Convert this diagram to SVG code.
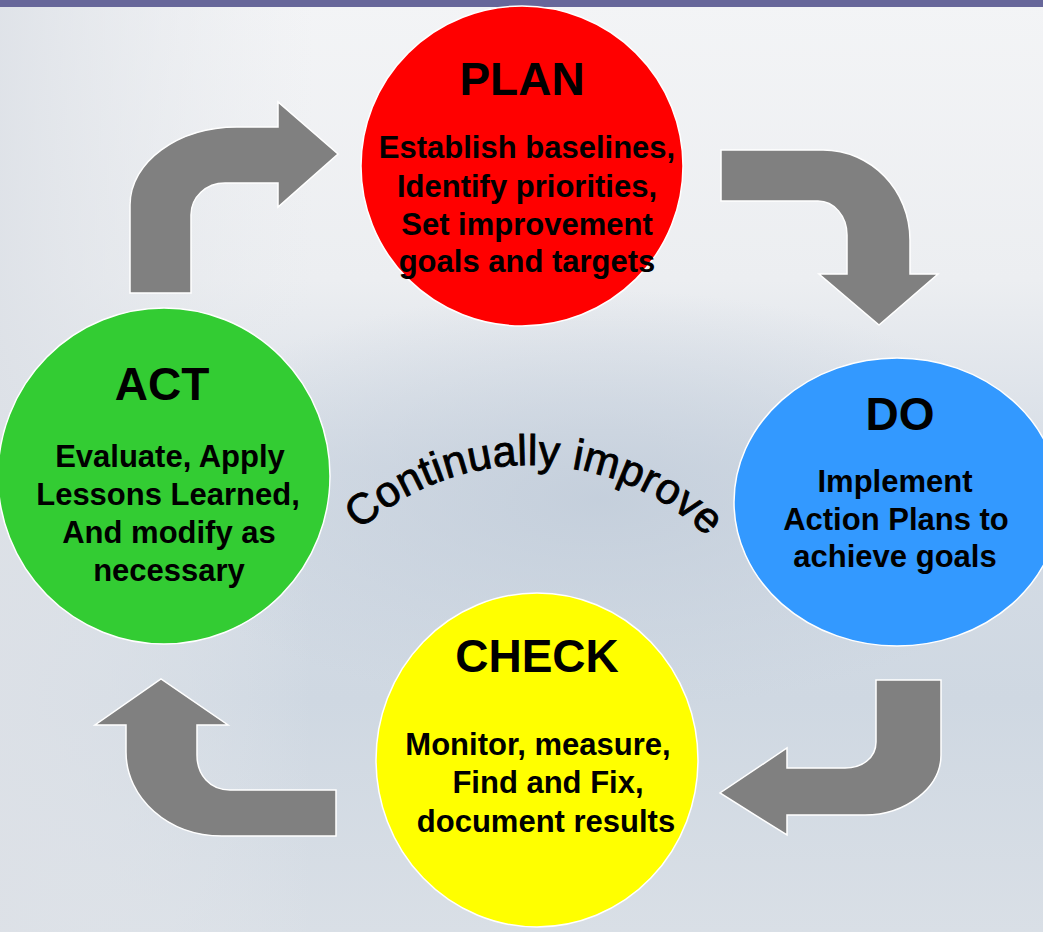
<svg xmlns="http://www.w3.org/2000/svg" width="1043" height="932" viewBox="0 0 1043 932">
  <defs>
    <linearGradient id="bg" x1="0" y1="0" x2="0" y2="1">
      <stop offset="0" stop-color="#f3f4f6"/>
      <stop offset="0.3" stop-color="#eceef1"/>
      <stop offset="0.5" stop-color="#d6dde6"/>
      <stop offset="0.75" stop-color="#cfd8e2"/>
      <stop offset="1" stop-color="#d9dfe6"/>
    </linearGradient>
    <linearGradient id="bgl" x1="0" y1="0" x2="1" y2="0">
      <stop offset="0" stop-color="#dde1e7" stop-opacity="0.9"/>
      <stop offset="0.3" stop-color="#e6e9ed" stop-opacity="0"/>
    </linearGradient>
    <radialGradient id="splash" cx="0.5" cy="0.5" r="0.5">
      <stop offset="0" stop-color="#c3cedb" stop-opacity="0.9"/>
      <stop offset="1" stop-color="#c3cedb" stop-opacity="0"/>
    </radialGradient>
    <path id="arc" d="M 290.4,632.8 A 255 255 0 0 1 769.6,632.8"/>
  </defs>
  <style>
    .arrow { fill: #808080; stroke: #ffffff; stroke-width: 1.5; stroke-linejoin: miter; }
    .node { stroke: #ffffff; stroke-width: 1.5; }
    .title { font-family: "Liberation Sans", Arial, sans-serif; font-weight: bold; font-size: 46px; fill: #000000; text-anchor: middle; }
    .body { font-family: "Liberation Sans", Arial, sans-serif; font-weight: bold; font-size: 31px; fill: #000000; text-anchor: middle; }
    .curve { font-family: "Liberation Sans", Arial, sans-serif; font-size: 43px; letter-spacing: 0.3px; fill: #000000; stroke: #000000; stroke-width: 0.9px; }
  </style>

  <!-- background -->
  <rect x="0" y="0" width="1043" height="932" fill="url(#bg)"/>
  <rect x="0" y="0" width="1043" height="932" fill="url(#bgl)"/>
  <ellipse cx="600" cy="500" rx="470" ry="210" fill="url(#splash)"/>
  <rect x="0" y="0" width="1043" height="7" fill="#67679a"/>

  <!-- connectors -->
  <g id="connectors">
    <path class="arrow" d="M130,293 L130,205 C130,162 178,127 237,127 L278,127 L278,102 L338,154 L278,207 L278,183 L225,183 C206,183 191,197 191,215 L191,293 Z"/>
    <path class="arrow" d="M721,150 L823,150 C871,150 910,190 910,240 L910,274 L938,274 L879,325 L819,274 L847,274 L847,235 C847,216 834,201 818,201 L721,201 Z"/>
    <path class="arrow" d="M876,680 L941,680 L941,755 C941,788 905,815 865,815 L787,815 L787,835 L720,793 L787,748 L787,768 L845,768 C862,768 876,758 876,742 Z"/>
    <path class="arrow" d="M336,790 L336,836 L222,836 C168,836 126,798 126,752 L126,725 L95,725 L161,679 L228,725 L197,725 L197,755 C197,775 210,790 230,790 Z"/>
  </g>

  <!-- PLAN -->
  <g id="plan">
    <ellipse class="node" cx="522" cy="166" rx="161" ry="160" fill="#ff0000"/>
    <text class="title" x="522" y="95">PLAN</text>
    <text class="body" x="527" y="158">Establish baselines,</text>
    <text class="body" x="527" y="197">Identify priorities,</text>
    <text class="body" x="527" y="235">Set improvement</text>
    <text class="body" x="527" y="272">goals and targets</text>
  </g>

  <!-- DO -->
  <g id="do">
    <ellipse class="node" cx="897" cy="502" rx="163" ry="144" fill="#3399ff"/>
    <text class="title" x="900" y="430">DO</text>
    <text class="body" x="895" y="492">Implement</text>
    <text class="body" x="896" y="530">Action Plans to</text>
    <text class="body" x="895" y="567">achieve goals</text>
  </g>

  <!-- CHECK -->
  <g id="check">
    <ellipse class="node" cx="537" cy="760" rx="161" ry="167" fill="#ffff00"/>
    <text class="title" x="537" y="672">CHECK</text>
    <text class="body" x="538" y="755">Monitor, measure,</text>
    <text class="body" x="548" y="793">Find and Fix,</text>
    <text class="body" x="546" y="832">document results</text>
  </g>

  <!-- ACT -->
  <g id="act">
    <ellipse class="node" cx="164" cy="476" rx="166" ry="168" fill="#33cc33"/>
    <text class="title" x="162" y="400">ACT</text>
    <text class="body" x="170" y="467">Evaluate, Apply</text>
    <text class="body" x="168" y="505">Lessons Learned,</text>
    <text class="body" x="169" y="543">And modify as</text>
    <text class="body" x="169" y="581">necessary</text>
  </g>

  <!-- center label -->
  <g id="label">
    <text class="curve"><textPath href="#arc" startOffset="50.8%" text-anchor="middle">Continually improve</textPath></text>
  </g>
</svg>
